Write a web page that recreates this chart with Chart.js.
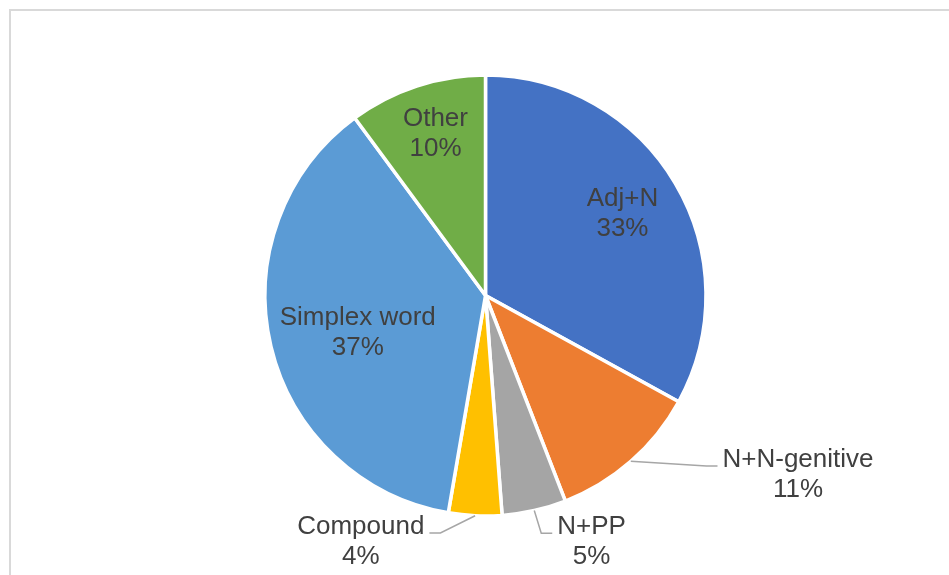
<!DOCTYPE html>
<html><head><meta charset="utf-8">
<script src="https://cdn.jsdelivr.net/npm/chart.js@4/dist/chart.umd.min.js"></script>
<style>html,body{margin:0;padding:0;background:#fff;} canvas{display:block;}</style>
</head><body>
<canvas id="c" width="949" height="575"></canvas>
<script>
const categories = ['Adj+N', 'N+N-genitive', 'N+PP', 'Compound', 'Simplex word', 'Other'];
const shares = [33, 11.1, 4.7, 3.9, 37.2, 10.1];
const sliceColors = ['#4472C4', '#ED7D31', '#A5A5A5', '#FFC000', '#5B9BD5', '#70AD47'];

// label placement relative to each slice (inside: along mid-angle; outside: from arc edge)
const labelLayout = [
  {inside: true,  r: 0.729, dx: -1.4, dy: -2.3},
  {inside: false, dx: 167.2, dy: 5.7,  side: 'right'},
  {inside: false, dx: 57.3,  dy: 23.8, side: 'right'},
  {inside: false, dx: -114.3, dy: 18.2, side: 'left'},
  {inside: true,  r: 0.601, dx: 1.2, dy: 4.6},
  {inside: true,  r: 0.778, dx: 3.5, dy: -1.2}
];

const FONT = '26px "Liberation Sans", Arial, sans-serif';
const LINE_H = 30;
const CAP = 0.716 * 26;

const frame = {
  id: 'frame',
  beforeDraw(chart) {
    const ctx = chart.ctx;
    ctx.save();
    ctx.fillStyle = '#fff';
    ctx.fillRect(0, 0, chart.width, chart.height);
    ctx.fillStyle = '#d9d9d9';
    ctx.fillRect(9, 9, chart.width - 9, 2);
    ctx.fillRect(9, 9, 2, chart.height - 9);
    ctx.restore();
  }
};

const pieLabels = {
  id: 'pieLabels',
  afterDatasetsDraw(chart) {
    const ctx = chart.ctx;
    const meta = chart.getDatasetMeta(0);
    const data = chart.data.datasets[0].data;
    const total = data.reduce((a, b) => a + b, 0);
    ctx.save();
    ctx.font = FONT;
    ctx.fillStyle = '#404040';
    ctx.textBaseline = 'alphabetic';
    ctx.textAlign = 'center';
    meta.data.forEach((arc, i) => {
      const p = arc.getProps(['x', 'y', 'startAngle', 'endAngle', 'outerRadius'], true);
      const mid = (p.startAngle + p.endAngle) / 2;
      const lay = labelLayout[i];
      const line1 = chart.data.labels[i];
      const line2 = Math.round(data[i] / total * 100) + '%';
      let cx, b1;
      if (lay.inside) {
        const rr = p.outerRadius * lay.r;
        cx = p.x + Math.cos(mid) * rr + lay.dx;
        const cy = p.y + Math.sin(mid) * rr + lay.dy;
        b1 = cy - (LINE_H - CAP) / 2;
      } else {
        const ex = p.x + Math.cos(mid) * p.outerRadius;
        const ey = p.y + Math.sin(mid) * p.outerRadius;
        cx = ex + lay.dx;
        b1 = ey + lay.dy;
        const w = ctx.measureText(line1).width;
        const ly = b1 - 1;
        let end, elbow;
        if (lay.side === 'right') { end = cx - w / 2 - 5; elbow = end - 11; }
        else { end = cx + w / 2 + 5; elbow = end + 11; }
        ctx.save();
        ctx.strokeStyle = '#a6a6a6';
        ctx.lineWidth = 1.5;
        ctx.beginPath();
        ctx.moveTo(ex, ey);
        ctx.lineTo(elbow, ly);
        ctx.lineTo(end, ly);
        ctx.stroke();
        ctx.restore();
      }
      ctx.fillText(line1, cx, b1);
      ctx.fillText(line2, cx, b1 + LINE_H);
    });
    ctx.restore();
  }
};

new Chart(document.getElementById('c'), {
  type: 'pie',
  data: {
    labels: categories,
    datasets: [{
      data: shares,
      backgroundColor: sliceColors,
      borderColor: '#ffffff',
      borderWidth: 3.5
    }]
  },
  options: {
    responsive: false,
    animation: false,
    radius: 220.5,
    layout: {padding: {left: 22, right: 0, top: 16, bottom: 0}},
    plugins: {legend: {display: false}, tooltip: {enabled: false}, title: {display: false}}
  },
  plugins: [frame, pieLabels]
});
</script>
</body></html>
